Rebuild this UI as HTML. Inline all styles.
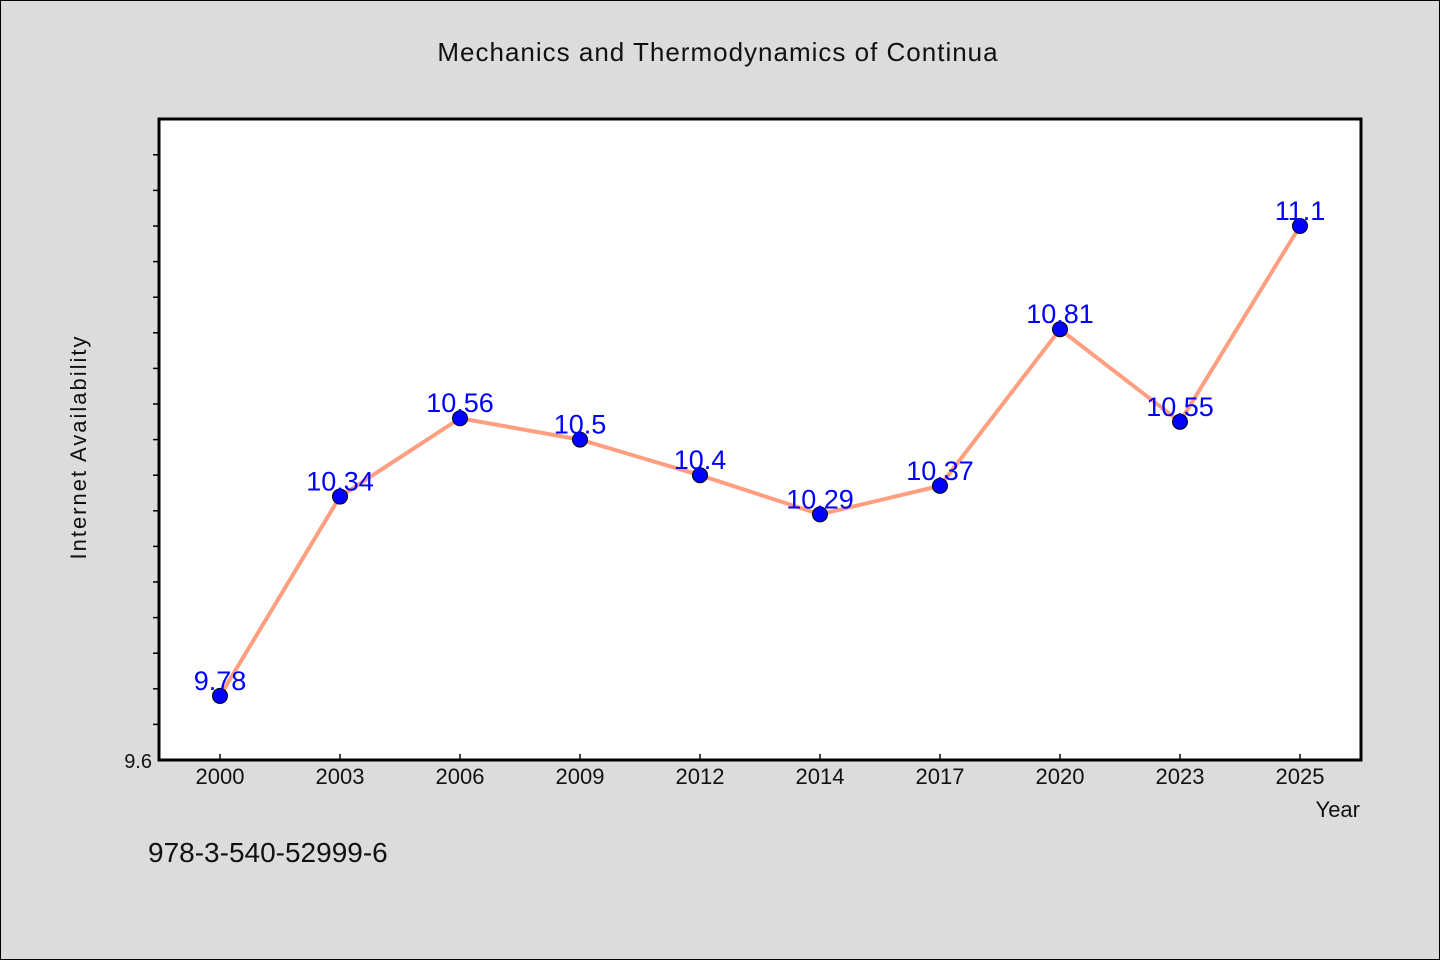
<!DOCTYPE html>
<html><head><meta charset="utf-8"><style>
body{margin:0;background:#dcdcdc;}
svg{display:block;font-family:"WenQuanYi Zen Hei","Liberation Sans",sans-serif;}
</style></head><body>
<svg width="1440" height="960">
<rect x="0.5" y="0.5" width="1439" height="959" fill="#dcdcdc" stroke="#000"/>
<text x="718" y="61" font-size="26" text-anchor="middle" fill="#111" letter-spacing="1">Mechanics and Thermodynamics of Continua</text>
<rect x="159" y="119" width="1202" height="641" fill="#fff" stroke="#000" stroke-width="3"/>
<g id="yticks"></g>
<g id="xticks"></g>
<g id="series"></g>
<text x="86" y="447" font-size="22" text-anchor="middle" fill="#111" letter-spacing="2" transform="rotate(-90 86 447)">Internet Availability</text>
<text x="1360" y="817" font-size="22" text-anchor="end" fill="#111">Year</text>
<text x="148" y="862" font-size="28" fill="#111">978-3-540-52999-6</text>
</svg>
<script>
const categories=["2000","2003","2006","2009","2012","2014","2017","2020","2023","2025"];
const values=[9.78,10.34,10.56,10.5,10.4,10.29,10.37,10.81,10.55,11.1];
const yMin=9.6, yStep=0.1, yTickCount=17;
const NS="http://www.w3.org/2000/svg";
const x0=159,x1=1361,yBase=760,pxPer=356;
function yS(v){return yBase-(v-yMin)*pxPer;}
function xS(i){return x0+61+i*120;}
function mk(t,a,p){const e=document.createElementNS(NS,t);for(const k in a)e.setAttribute(k,a[k]);p.appendChild(e);return e;}
const yt=document.getElementById('yticks');
for(let i=1;i<=yTickCount;i++){const y=yS(yMin+i*yStep);const l=mk('line',{x1:153,x2:159,y1:y,y2:y,stroke:'#000','stroke-width':1.5},yt);

}
const yl=mk('text',{x:152,y:768,'font-size':20,'text-anchor':'end',fill:'#111'},yt);yl.textContent="9.6";


const xt=document.getElementById('xticks');
categories.forEach((c,i)=>{const x=xS(i);
const l=mk('line',{x1:x,x2:x,y1:754,y2:760,stroke:'#000','stroke-width':1.5},xt);


const t=mk('text',{x:x,y:784,'font-size':22,'text-anchor':'middle',fill:'#111'},xt);t.textContent=c;

});
const s=document.getElementById('series');
const pl=mk('polyline',{points:values.map((v,i)=>xS(i)+','+yS(v)).join(' '),fill:'none',stroke:'#ff9f7f','stroke-width':4,'stroke-linejoin':'round'},s);


values.forEach((v,i)=>{const c=mk('circle',{cx:xS(i),cy:yS(v),r:7.5,fill:'#0000ff',stroke:'#000','stroke-width':1},s);


const t=mk('text',{x:xS(i),y:yS(v)-6,'font-size':27,'text-anchor':'middle',fill:'#0000ff'},s);t.textContent=String(v);

});
</script>
</body></html>
